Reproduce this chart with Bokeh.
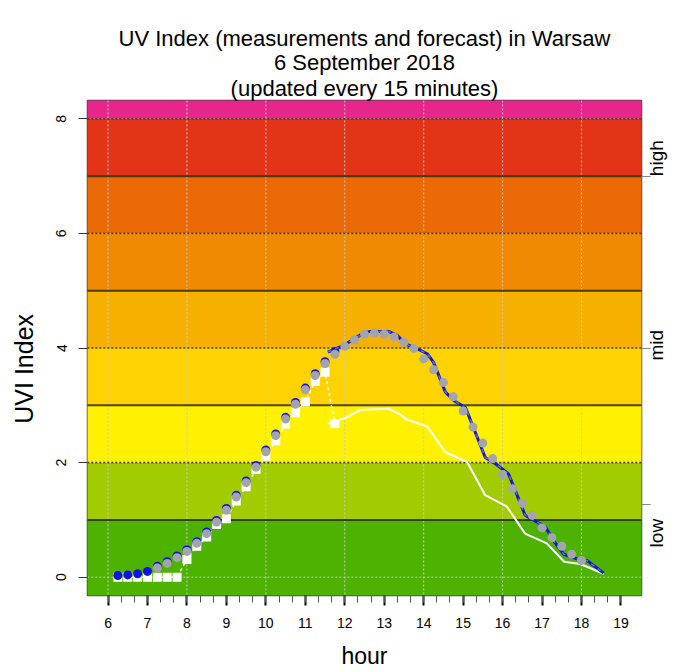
import numpy as np
from bokeh.plotting import figure
from bokeh.models import Range1d, FixedTicker, LinearAxis, Title, CustomLabelingPolicy
from bokeh.embed import file_html
from bokeh.resources import INLINE

# ---------------- data ----------------
meas_hours = [6.25, 6.5, 6.75, 7.0, 7.25, 7.5, 7.75, 8.0, 8.25, 8.5, 8.75, 9.0,
              9.25, 9.5, 9.75, 10.0, 10.25, 10.5, 10.75, 11.0, 11.25, 11.5, 11.75]
meas_uvi = [0.03, 0.04, 0.06, 0.10, 0.19, 0.27, 0.37, 0.48, 0.62, 0.79, 0.99, 1.20,
            1.43, 1.68, 1.95, 2.22, 2.50, 2.79, 3.05, 3.30, 3.55, 3.76, 3.94]
raw_uvi = [0.0, 0.0, 0.0, 0.0, 0.0, 0.0, 0.0, 0.31, 0.54, 0.70, 0.92, 1.02,
           1.33, 1.58, 1.88, 2.11, 2.38, 2.67, 2.87, 3.06, 3.42, 3.58, 2.68]

model_hours = [7.25, 7.5, 7.75, 8.0, 8.25, 8.5, 8.75, 9.0, 9.25, 9.5, 9.75, 10.0,
               10.25, 10.5, 10.75, 11.0, 11.25, 11.5, 11.75, 12.0, 12.25, 12.5, 12.75,
               13.0, 13.25, 13.5, 13.75, 14.0, 14.25, 14.5, 14.75, 15.0, 15.25, 15.5,
               15.75, 16.0, 16.25, 16.5, 16.75, 17.0, 17.25, 17.5, 17.75, 18.0]
model_uvi = [0.16, 0.24, 0.34, 0.45, 0.59, 0.76, 0.96, 1.17, 1.40, 1.65, 1.92, 2.19,
             2.47, 2.76, 3.02, 3.27, 3.52, 3.73, 3.89, 4.03, 4.14, 4.24, 4.26,
             4.24, 4.19, 4.10, 3.99, 3.81, 3.62, 3.40, 3.15, 2.90, 2.62, 2.34,
             2.07, 1.79, 1.54, 1.29, 1.08, 0.86, 0.69, 0.54, 0.40, 0.29]

fc_hours = [11.57, 12.02, 12.23, 12.48, 12.65, 13.11, 13.33, 13.54, 13.83, 14.09,
            14.25, 14.55, 14.77, 15.06, 15.56, 15.82, 16.15, 16.30, 16.57, 16.80,
            17.08, 17.30, 17.55, 17.97, 18.14, 18.56]
fc_uvi = [3.93, 4.06, 4.16, 4.26, 4.29, 4.29, 4.22, 4.07, 3.99, 3.90,
          3.75, 3.23, 3.08, 2.96, 2.09, 1.98, 1.80, 1.55, 1.08, 0.99,
          0.88, 0.63, 0.40, 0.30, 0.29, 0.07]

fc2_hours = [11.57, 12.02, 12.40, 13.11, 13.38, 13.58, 14.09, 14.55, 15.10, 15.56,
             16.11, 16.57, 17.12, 17.56, 17.97, 18.56]
fc2_uvi = [2.68, 2.78, 2.92, 2.94, 2.85, 2.75, 2.63, 2.18, 2.01, 1.43,
           1.23, 0.76, 0.59, 0.27, 0.23, 0.06]

band_lo = [-1, 1, 2, 3, 4, 5, 6, 7, 8]
band_hi = [1, 2, 3, 4, 5, 6, 7, 8, 10]
band_colors = ["#4DB200", "#A3CC00", "#FFF100", "#FFD300", "#F6B100",
               "#F08A00", "#EC6A06", "#E33418", "#E6268A"]
solid_levels = [1, 3, 5, 7]
dotted_levels = [2, 4, 6, 8]
light_levels = [0]
grid_x = [6, 8, 10, 12, 14, 16, 18]

x_ticks = [6, 7, 8, 9, 10, 11, 12, 13, 14, 15, 16, 17, 18, 19]
y_ticks = [0, 2, 4, 6, 8]
right_ticks = [1.26, 4, 7]
right_labels = ["low", "mid", "high"]
right_label_start = [0.52, 3.78, 7.0]

title_lines = ["UV Index (measurements and forecast) in Warsaw",
               "6 September 2018",
               "(updated every 15 minutes)"]

FONT = "'Liberation Sans', Arial, sans-serif"
NB = "\u00a0"

# ---------------- figure ----------------
p = figure(width=680, height=672, x_range=Range1d(5.48, 19.52), y_range=Range1d(-0.32, 8.32),
           output_backend="svg", toolbar_location=None,
           min_border_left=87, min_border_right=38, min_border_top=100, min_border_bottom=77)
p.xgrid.visible = False
p.ygrid.visible = False
p.outline_line_color = "#444444"
p.outline_line_width = 1.5
p.background_fill_color = "white"
p.border_fill_color = "white"

xa = p.below[0]
ya = p.left[0]

# empty spacer between the plot and the title block (no ticks are drawn)
spacer = LinearAxis(ticker=FixedTicker(ticks=[], minor_ticks=[]))
spacer.axis_line_color = None
spacer.major_tick_in = 0
spacer.major_tick_out = 18
spacer.major_tick_line_color = "white"
spacer.minor_tick_in = 0
spacer.minor_tick_out = 0
spacer.minor_tick_line_color = None
spacer.major_label_standoff = 0
p.add_layout(spacer, "above")

# title: p.title is the outermost line; added titles stack outward from the plot
p.title.text = title_lines[0]
t3 = Title(text=title_lines[2])
p.add_layout(t3, "above")
t2 = Title(text=title_lines[1])
p.add_layout(t2, "above")
for t, so in [(p.title, -3), (t2, -3), (t3, 0)]:
    t.align = "center"
    t.text_font = FONT
    t.text_font_size = "22px"
    t.text_font_style = "normal"
    t.text_color = "black"
    t.standoff = so
    t.offset = 0

# bands
p.quad(left=0, right=25, bottom=band_lo, top=band_hi, fill_color=band_colors, line_color=None)

# grid / band lines
p.segment(x0=grid_x, y0=-1, x1=grid_x, y1=10, line_color="#c8c8c8", line_dash="2 2", line_width=1)
p.segment(x0=0, y0=light_levels, x1=25, y1=light_levels, line_color="#c8c8c8", line_dash="2 2", line_width=1)
p.segment(x0=0, y0=solid_levels, x1=25, y1=solid_levels, line_color="#2e2a10", line_alpha=0.85, line_width=2)
p.segment(x0=0, y0=dotted_levels, x1=25, y1=dotted_levels, line_color="#4a4020", line_dash="2 2", line_width=1.6)

# data
p.line(meas_hours, raw_uvi, line_color="white", line_dash="3 3", line_width=1.5)
p.scatter(meas_hours, raw_uvi, marker="square", size=9, fill_color="white", line_color=None)
p.line(fc2_hours, fc2_uvi, line_color="white", line_width=2)
p.scatter(meas_hours, meas_uvi, marker="circle", size=9, fill_color="#1212E6", line_color=None)
p.line(fc_hours, fc_uvi, line_color="#1818C8", line_width=3)
p.line(fc_hours, fc_uvi, line_color="#4F6EF5", line_width=1.5, line_dash="4 4")
p.scatter(model_hours, model_uvi, marker="circle", size=9, fill_color="#A2A5AE", line_color=None)

# axes
xa.ticker = FixedTicker(ticks=x_ticks, minor_ticks=list(np.arange(6, 19.01, 1 / 3)))
xa.axis_line_color = None
xa.major_tick_in = 0
xa.major_tick_out = 10
xa.major_tick_line_width = 2
xa.major_tick_line_color = "black"
xa.minor_tick_in = 0
xa.minor_tick_out = 7
xa.minor_tick_line_color = "#555555"
xa.major_label_standoff = 12
xa.major_label_text_font = FONT
xa.major_label_text_font_size = "14px"
xa.major_label_text_color = "black"
xa.axis_label = "hour"
xa.axis_label_text_font = FONT
xa.axis_label_text_font_size = "23px"
xa.axis_label_text_font_style = "normal"
xa.axis_label_text_color = "black"
xa.axis_label_standoff = 12

ya.ticker = FixedTicker(ticks=y_ticks, minor_ticks=[])
ya.axis_line_color = None
ya.major_tick_in = 0
ya.major_tick_out = 9
ya.major_tick_line_color = "#333333"
ya.major_label_orientation = "vertical"
ya.major_label_standoff = 12
ya.major_label_text_font = FONT
ya.major_label_text_font_size = "14px"
ya.major_label_text_color = "black"
ya.axis_label = "UVI Index" + NB * 6
ya.axis_label_text_font = FONT
ya.axis_label_text_font_size = "25px"
ya.axis_label_text_font_style = "normal"
ya.axis_label_text_color = "black"
ya.axis_label_standoff = 16

# right side: tick marks (no labels) ...
ra = LinearAxis(ticker=FixedTicker(ticks=right_ticks, minor_ticks=[]))
ra.axis_line_color = None
ra.major_tick_in = 0
ra.major_tick_out = 9
ra.major_tick_line_color = "#888888"
ra.major_label_standoff = 0
ra.major_label_overrides = {v: "" for v in right_ticks}
ra.major_label_policy = CustomLabelingPolicy(code="")
p.add_layout(ra, "right")

# ... and the band labels, reading upwards
rl = LinearAxis(ticker=FixedTicker(ticks=right_label_start, minor_ticks=[]))
rl.axis_line_color = None
rl.major_tick_in = 0
rl.major_tick_out = 0
rl.major_tick_line_color = None
rl.major_label_orientation = np.pi / 2
rl.major_label_standoff = 6
rl.major_label_text_font = FONT
rl.major_label_text_font_size = "19px"
rl.major_label_text_color = "black"
rl.major_label_overrides = dict(zip(right_label_start, right_labels))
p.add_layout(rl, "right")

open("out.html", "w").write(file_html(p, INLINE))
